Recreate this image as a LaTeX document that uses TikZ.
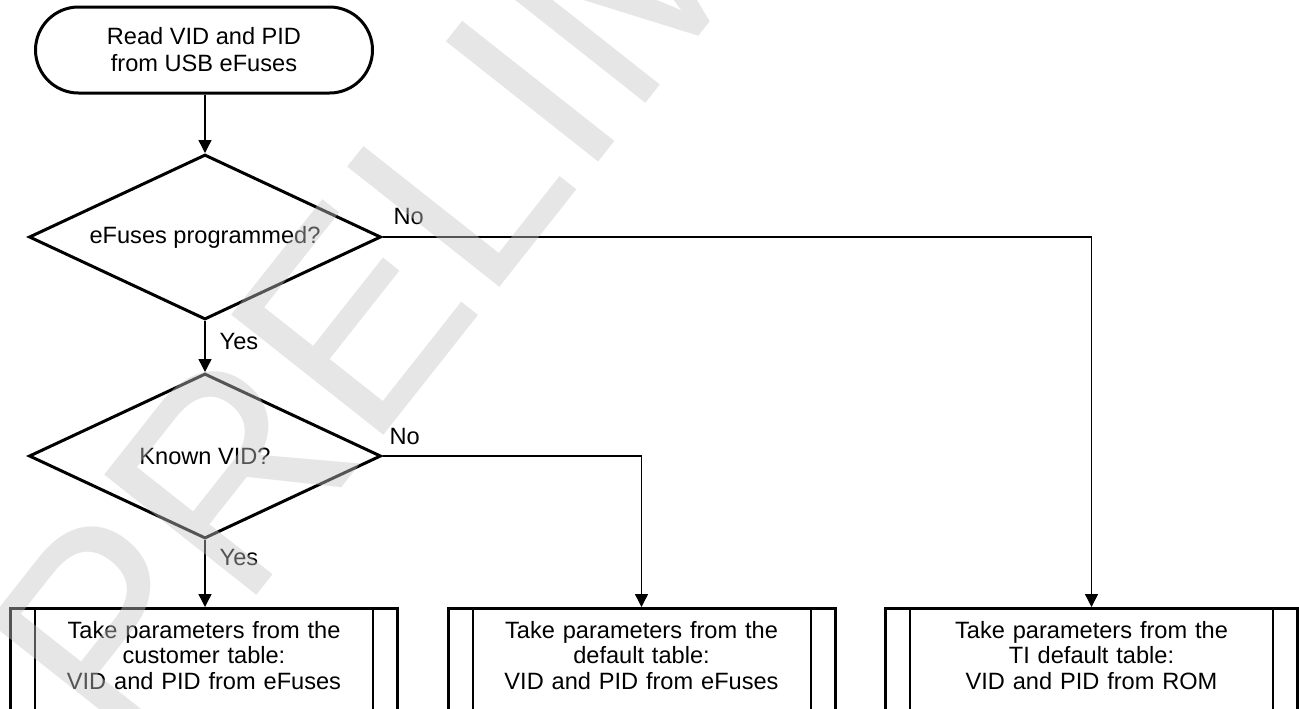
\documentclass[tikz,border=0pt]{standalone}
\usepackage{fontspec}
\setmainfont{Liberation Sans}
\usetikzlibrary{arrows.meta, positioning, shapes.geometric}

\begin{document}
\begin{tikzpicture}[
    x=0.5pt, y=-0.5pt,
    >={Triangle[length=6.5pt, width=6.5pt]},
    term/.style={
        draw,
        line width=1.5pt,
        rounded corners=21.5pt,
        minimum width=168.5pt,
        minimum height=43pt,
        align=center,
        font=\fontsize{11.8pt}{13.5pt}\selectfont,
    },
    decision/.style={
        draw,
        diamond,
        aspect=2.13,
        line width=1.5pt,
        minimum width=176pt,
        minimum height=82.5pt,
        inner sep=0pt,
        font=\fontsize{11.8pt}{13pt}\selectfont,
    },
    procbox/.style={
        draw,
        line width=1.5pt,
        minimum width=193.5pt,
        inner xsep=0pt,
        inner ysep=0pt,
        text width=160pt,
        align=center,
        text height=15pt,
        text depth=60pt,
        font=\fontsize{11.8pt}{12.7pt}\selectfont,
    },
    conn/.style={->, line width=0.7pt},
    lbl/.style={
        inner sep=0pt,
        font=\fontsize{11.8pt}{13pt}\selectfont,
    },
    wmark/.style={
        text=black!23,
        opacity=0.43,
        inner sep=0pt,
        font=\fontsize{141pt}{141pt}\selectfont,
    },
]

\useasboundingbox (0,0) rectangle (1299,708);
\clip (0,0) rectangle (1299,708);

% --- Start and the two decisions, placed by coordinates ---
\node[term] (start) at (204,50) {
    Read VID and PID\\
    from USB eFuses
};

\node[decision] (fused) at (205,237) {eFuses programmed?};
\node[decision] (known) at (205,456) {Known VID?};

% --- Bottom row: predefined process boxes ---
\node[procbox, anchor=north] (custbox) at (204,607) {
    Take parameters from the\\
    customer table:\\
    VID and PID from eFuses
};
\node[procbox, right=23.75pt of custbox] (defbox) {
    Take parameters from the\\
    default table:\\
    VID and PID from eFuses
};
\node[procbox, minimum width=206pt, right=23.75pt of defbox] (tibox) {
    Take parameters from the\\
    TI default table:\\
    VID and PID from ROM
};

% side bars of the process boxes
\foreach \b in {custbox, defbox, tibox} {
    \draw[line width=1pt] ([xshift=13pt]\b.north west) -- ([xshift=13pt]\b.south west);
    \draw[line width=1pt] ([xshift=-13pt]\b.north east) -- ([xshift=-13pt]\b.south east);
}

% --- Connectors ---
\draw[conn] (start.south -| fused.north) -- (fused.north);
\draw[conn] (fused.south)
    node[lbl, anchor=north west, xshift=7pt, yshift=-5.75pt] {Yes}
    -- (known.north);
\draw[conn] (known.south)
    node[lbl, anchor=north west, xshift=7pt, yshift=-4.5pt] {Yes}
    -- (known.south |- custbox.north);
\draw[conn] (fused.east)
    node[lbl, anchor=south west, xshift=5.25pt, yshift=6pt] {No}
    -| (tibox.north);
\draw[conn] (known.east)
    node[lbl, anchor=south west, xshift=3.25pt, yshift=5.5pt] {No}
    -| (defbox.north);

% --- Watermark over everything ---
\node[wmark, rotate=51.7, anchor=base west] (wm) at (126,761) {PRELIMINARY};

\end{tikzpicture}
\end{document}
